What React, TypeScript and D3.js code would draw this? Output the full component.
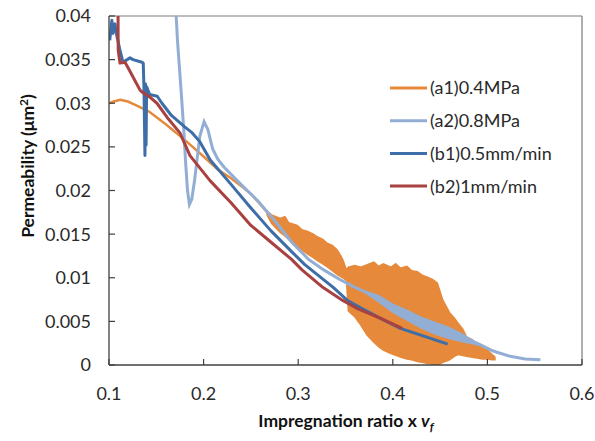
import React from 'react';
import * as d3 from 'd3';

// a1 0.4MPa: smooth start, then the noisy band (x, lower, upper)
const a1Line: [number, number][] = [
  [0.100, 0.0300], [0.105, 0.0302], [0.112, 0.0304], [0.120, 0.0302],
  [0.130, 0.0297], [0.143, 0.0290], [0.160, 0.0276], [0.180, 0.0258],
  [0.200, 0.0239], [0.215, 0.0224], [0.229, 0.0214], [0.240, 0.0205],
  [0.250, 0.0196], [0.260, 0.0184], [0.268, 0.0174],
];
const a1Band: [number, number, number][] = [
  [0.267, 0.0172, 0.0176], [0.272, 0.0162, 0.0172], [0.281, 0.0152, 0.0168],
  [0.286, 0.0148, 0.0170], [0.290, 0.0144, 0.0163], [0.299, 0.0136, 0.0160],
  [0.304, 0.0132, 0.0155], [0.310, 0.0127, 0.0153], [0.316, 0.0123, 0.0150],
  [0.320, 0.0120, 0.0147], [0.326, 0.0116, 0.0144], [0.330, 0.0113, 0.0140],
  [0.336, 0.0108, 0.0137], [0.341, 0.0104, 0.0132], [0.344, 0.0102, 0.0127],
  [0.347, 0.0100, 0.0121], [0.351, 0.0097, 0.0109], [0.353, 0.0062, 0.0112],
  [0.360, 0.0055, 0.0114], [0.366, 0.0046, 0.0112], [0.373, 0.0034, 0.0115],
  [0.380, 0.0026, 0.0118], [0.385, 0.0021, 0.0113], [0.390, 0.0017, 0.0116],
  [0.398, 0.0013, 0.0112], [0.403, 0.0011, 0.0116], [0.408, 0.0009, 0.0111],
  [0.415, 0.0007, 0.0113], [0.420, 0.0006, 0.0108], [0.426, 0.0004, 0.0107],
  [0.431, 0.0003, 0.0103], [0.436, 0.0002, 0.0101], [0.442, 0.0001, 0.0098],
  [0.447, 0.0000, 0.0094], [0.453, 0.0003, 0.0074], [0.460, 0.0006, 0.0060],
  [0.465, 0.0010, 0.0054], [0.469, 0.0012, 0.0048], [0.474, 0.0011, 0.0041],
  [0.478, 0.0010, 0.0032], [0.484, 0.0009, 0.0029], [0.489, 0.0008, 0.0024],
  [0.495, 0.0007, 0.0019], [0.500, 0.0007, 0.0017], [0.505, 0.0006, 0.0012],
  [0.508, 0.0006, 0.0009],
];

// a2 0.8MPa
const a2Line: [number, number][] = [
  [0.1700, 0.0420], [0.1725, 0.0370], [0.1745, 0.0340], [0.1765, 0.0310],
  [0.1790, 0.0270], [0.1810, 0.0232], [0.1830, 0.0200], [0.1850, 0.0184],
  [0.1875, 0.0190], [0.1905, 0.0212], [0.1960, 0.0262], [0.2005, 0.0279],
  [0.2045, 0.0270], [0.2095, 0.0248], [0.2150, 0.0236], [0.2215, 0.0227],
  [0.2395, 0.0207], [0.2575, 0.0188], [0.2755, 0.0165], [0.2930, 0.0141],
  [0.3110, 0.0121], [0.3270, 0.0109], [0.3440, 0.0098], [0.3600, 0.0089],
  [0.3790, 0.0080], [0.4000, 0.0065], [0.4150, 0.0057], [0.4360, 0.0046],
  [0.4550, 0.0039], [0.4710, 0.0033], [0.4890, 0.0025], [0.5060, 0.0016],
  [0.5240, 0.0010], [0.5400, 0.0007], [0.5560, 0.0006],
];
const a2Band: [number, number, number][] = [
  [0.370, 0.0083, 0.0085], [0.385, 0.0072, 0.0080], [0.400, 0.0060, 0.0070],
  [0.415, 0.0051, 0.0063], [0.430, 0.0042, 0.0055], [0.445, 0.0035, 0.0049],
  [0.460, 0.0030, 0.0043], [0.475, 0.0026, 0.0035], [0.485, 0.0024, 0.0028],
  [0.492, 0.0022, 0.0023],
];

// b1 0.5mm/min
const b1Line: [number, number][] = [
  [0.1008, 0.0372], [0.1030, 0.0395], [0.1042, 0.0380], [0.1063, 0.0391],
  [0.1085, 0.0376], [0.1116, 0.0361], [0.1148, 0.0347], [0.1222, 0.0352],
  [0.1254, 0.0350], [0.1349, 0.0347], [0.1362, 0.0346], [0.1370, 0.0316],
  [0.1380, 0.0240], [0.1386, 0.0322], [0.1392, 0.0252], [0.1398, 0.0319],
  [0.1430, 0.0310], [0.1510, 0.0308], [0.1560, 0.0300], [0.1660, 0.0286],
  [0.1800, 0.0273], [0.1880, 0.0266], [0.1960, 0.0256], [0.2070, 0.0235],
  [0.2290, 0.0207], [0.2500, 0.0180], [0.2710, 0.0154], [0.2930, 0.0130],
  [0.3070, 0.0115], [0.3370, 0.0089], [0.3520, 0.0074], [0.3650, 0.0066],
  [0.3860, 0.0054], [0.4080, 0.0042], [0.4360, 0.0032], [0.4580, 0.0024],
];

// b2 1mm/min
const b2Line: [number, number][] = [
  [0.1095, 0.0420], [0.1097, 0.0361], [0.1116, 0.0346], [0.1169, 0.0347],
  [0.1200, 0.0341], [0.1254, 0.0330], [0.1328, 0.0315], [0.1360, 0.0312],
  [0.1433, 0.0307], [0.1507, 0.0300], [0.1613, 0.0284], [0.1750, 0.0266],
  [0.1856, 0.0240], [0.2070, 0.0211], [0.2290, 0.0186], [0.2500, 0.0160],
  [0.2710, 0.0141], [0.2930, 0.0121], [0.3040, 0.0109], [0.3260, 0.0089],
  [0.3470, 0.0074], [0.3620, 0.0065], [0.3860, 0.0054], [0.4100, 0.0042],
];

const xTicks = [0.1, 0.2, 0.3, 0.4, 0.5, 0.6];
const yTicks = [0, 0.005, 0.01, 0.015, 0.02, 0.025, 0.03, 0.035, 0.04];
const legendNames = ['(a1)0.4MPa', '(a2)0.8MPa', '(b1)0.5mm/min', '(b2)1mm/min'];
const colors = ['#E6893A', '#93AED4', '#3D6EA8', '#A8413F'];

const W = 595, H = 441;
const m = { left: 109, right: 582, top: 16, bottom: 365 };
const font = 'Lato, "Open Sans", sans-serif';

export default function App() {
  const x = d3.scaleLinear().domain([0.1, 0.6]).range([m.left, m.right]);
  const y = d3.scaleLinear().domain([0, 0.04]).range([m.bottom, m.top]);

  const line = d3.line<[number, number]>().x(d => x(d[0])).y(d => y(d[1]));
  const band = d3.area<[number, number, number]>()
    .x(d => x(d[0])).y0(d => y(d[1])).y1(d => y(d[2]));

  return (
    <svg width={W} height={H} style={{ position: 'absolute', left: 0, top: 0, background: '#fff' }}>
      <defs>
        <clipPath id="plot">
          <rect x={m.left} y={m.top} width={m.right - m.left} height={m.bottom - m.top} />
        </clipPath>
      </defs>

      {/* frame */}
      <line x1={m.left} x2={m.right} y1={m.top} y2={m.top} stroke="#7a7a7a" strokeWidth={1.2} />
      <line x1={m.right} x2={m.right} y1={m.top} y2={m.bottom} stroke="#7a7a7a" strokeWidth={1.2} />

      <g clipPath="url(#plot)">
        <path d={band(a1Band) || ''} fill={colors[0]} stroke={colors[0]} strokeWidth={1.5} />
        <path d={line(a1Line) || ''} fill="none" stroke={colors[0]} strokeWidth={2.5} />
        <path d={band(a2Band) || ''} fill={colors[1]} stroke={colors[1]} strokeWidth={1} />
        <path d={line(a2Line) || ''} fill="none" stroke={colors[1]} strokeWidth={3} />
        <path d={line(b1Line) || ''} fill="none" stroke={colors[2]} strokeWidth={3} strokeLinejoin="round" />
        <path d={line(b2Line) || ''} fill="none" stroke={colors[3]} strokeWidth={3} strokeLinejoin="round" />
      </g>

      {/* axes */}
      <line x1={m.left} x2={m.left} y1={m.top} y2={m.bottom} stroke="#404040" strokeWidth={1.3} />
      <line x1={m.left} x2={m.right} y1={m.bottom} y2={m.bottom} stroke="#404040" strokeWidth={1.3} />
      {yTicks.map(t => (
        <g key={'y' + t}>
          <line x1={m.left} x2={m.left + 6} y1={y(t)} y2={y(t)} stroke="#404040" strokeWidth={1.2} />
          <text x={91} y={y(t)} dy="0.36em" textAnchor="end" fontFamily={font} fontSize={18} fill="#2a2a2a">
            {String(t)}
          </text>
        </g>
      ))}
      {xTicks.map(t => (
        <g key={'x' + t}>
          <line x1={x(t)} x2={x(t)} y1={m.bottom} y2={m.bottom - 6} stroke="#404040" strokeWidth={1.2} />
          <text x={x(t)} y={400} textAnchor="middle" fontFamily={font} fontSize={18} fill="#2a2a2a">
            {String(t)}
          </text>
        </g>
      ))}

      {/* axis titles */}
      <text x={346} y={427} textAnchor="middle" fontFamily={font} fontSize={17.5} fontWeight="bold" fill="#111">
        Impregnation ratio x <tspan fontStyle="italic">v</tspan>
        <tspan fontStyle="italic" fontSize={12} dy={4}>f</tspan>
      </text>
      <text transform="translate(34,166) rotate(-90)" textAnchor="middle" fontFamily={font} fontSize={17.5}
        fontWeight="bold" fill="#111">
        Permeability (μm<tspan fontSize={12} dy={-6}>2</tspan><tspan dy={6}>)</tspan>
      </text>

      {/* legend */}
      {legendNames.map((n, i) => {
        const ly = 88 + i * 32.7;
        return (
          <g key={n}>
            <line x1={390} x2={427} y1={ly} y2={ly} stroke={colors[i]} strokeWidth={3} />
            <text x={430} y={ly} dy="0.36em" fontFamily={font} fontSize={18} fill="#2a2a2a">{n}</text>
          </g>
        );
      })}
    </svg>
  );
}
